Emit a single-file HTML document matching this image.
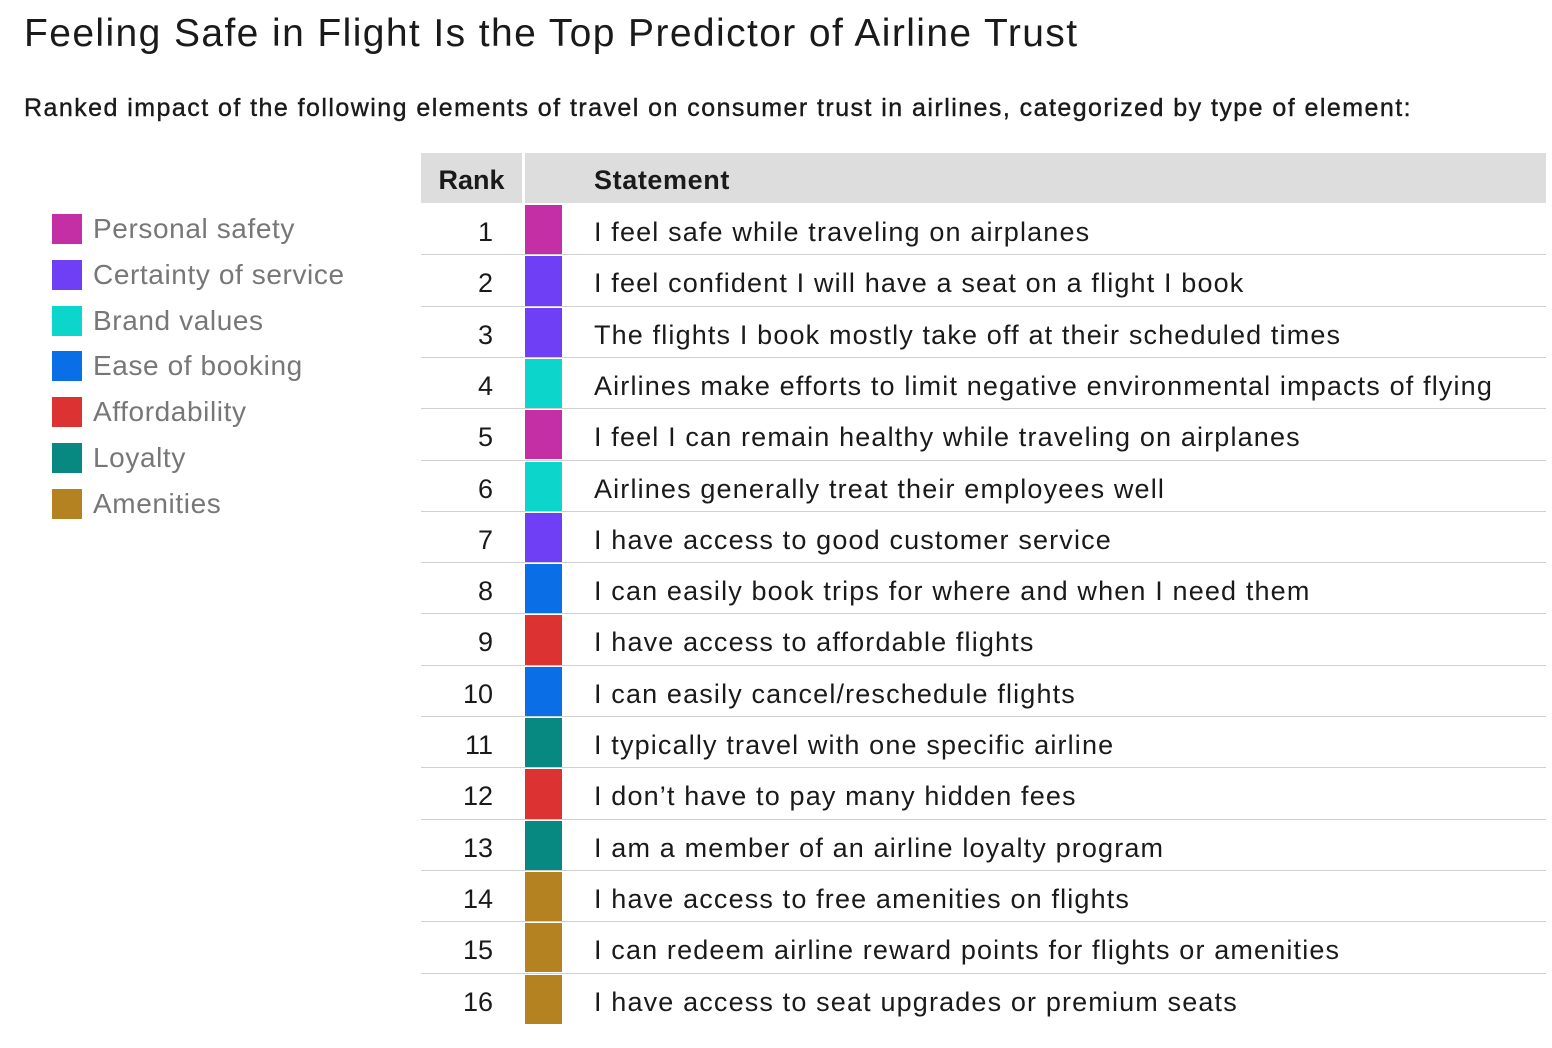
<!DOCTYPE html>
<html><head><meta charset="utf-8"><style>
body{margin:0;width:1552px;height:1048px;background:#fff;font-family:"Liberation Sans",sans-serif;position:relative;overflow:hidden;color:#1a1a1a}
.abs{position:absolute;white-space:nowrap}
</style></head><body>
<div class="abs" style="left:24px;top:12px;font-size:39px;letter-spacing:1.4px;">Feeling Safe in Flight Is the Top Predictor of Airline Trust</div>
<div class="abs" style="left:24px;top:94px;font-size:25px;letter-spacing:1.45px;-webkit-text-stroke:0.4px #1a1a1a;">Ranked impact of the following elements of travel on consumer trust in airlines, categorized by type of element:</div>
<div id="legend"></div>
<div class="abs" style="left:421px;top:153px;width:101px;height:50px;background:#dcdddc;font-weight:bold;font-size:27px;line-height:54px;text-align:center;">Rank</div>
<div class="abs" style="left:525px;top:153px;width:1021px;height:50px;background:#dcdddc;font-weight:bold;font-size:27px;line-height:54px;letter-spacing:0.6px;"><span style="margin-left:69px">Statement</span></div>
<div id="table"></div>
<script>
const categories=["Personal safety","Certainty of service","Brand values","Ease of booking","Affordability","Loyalty","Amenities"];
const catColors=["#c42fa5","#6f3ff5","#0cd6cb","#0a6ee6","#dc3232","#078880","#b48221"];
const statements=["I feel safe while traveling on airplanes","I feel confident I will have a seat on a flight I book","The flights I book mostly take off at their scheduled times","Airlines make efforts to limit negative environmental impacts of flying","I feel I can remain healthy while traveling on airplanes","Airlines generally treat their employees well","I have access to good customer service","I can easily book trips for where and when I need them","I have access to affordable flights","I can easily cancel/reschedule flights","I typically travel with one specific airline","I don\u2019t have to pay many hidden fees","I am a member of an airline loyalty program","I have access to free amenities on flights","I can redeem airline reward points for flights or amenities","I have access to seat upgrades or premium seats"];
const statementCats=[0,1,1,2,0,2,1,3,4,3,5,4,5,6,6,6];
const ranks=[1,2,3,4,5,6,7,8,9,10,11,12,13,14,15,16];
const lg=document.getElementById('legend');
categories.forEach((c,i)=>{
  const y=214+i*45.8;
  const sw=document.createElement('div');
  
  
  sw.className='abs';sw.style.cssText=`left:52px;top:${y}px;width:30px;height:30px;background:${catColors[i]}`;
  lg.appendChild(sw);
  const t=document.createElement('div');
  
  
  t.className='abs';t.style.cssText=`left:93px;top:${y-3}px;font-size:28px;color:#777;line-height:36px;letter-spacing:0.6px`;
  t.textContent=c;lg.appendChild(t);
});
const tb=document.getElementById('table');
const rowH=51.3,top0=204;
statements.forEach((s,i)=>{
  const y=top0+i*rowH;
  const r=document.createElement('div');
  
  
  r.className='abs';r.style.cssText=`left:421px;top:${y+3}px;width:72px;height:${rowH}px;line-height:${rowH}px;text-align:right;font-size:27px`;
  r.textContent=ranks[i];tb.appendChild(r);
  const c=document.createElement('div');
  
  
  c.className='abs';c.style.cssText=`left:525px;top:${y+1}px;width:37px;height:${rowH-2}px;background:${catColors[statementCats[i]]}`;
  tb.appendChild(c);
  const t=document.createElement('div');
  
  
  t.className='abs';t.style.cssText=`left:594px;top:${y+3}px;height:${rowH}px;line-height:${rowH}px;font-size:27px;letter-spacing:1.15px`;
  t.textContent=s;tb.appendChild(t);
  if(i<statements.length-1){
    const l=document.createElement('div');
    
    
    l.className='abs';l.style.cssText=`left:421px;top:${y+rowH-1}px;width:1125px;height:1px;background:#d0d0d0`;
    tb.appendChild(l);
  }
});
</script>
</body></html>
